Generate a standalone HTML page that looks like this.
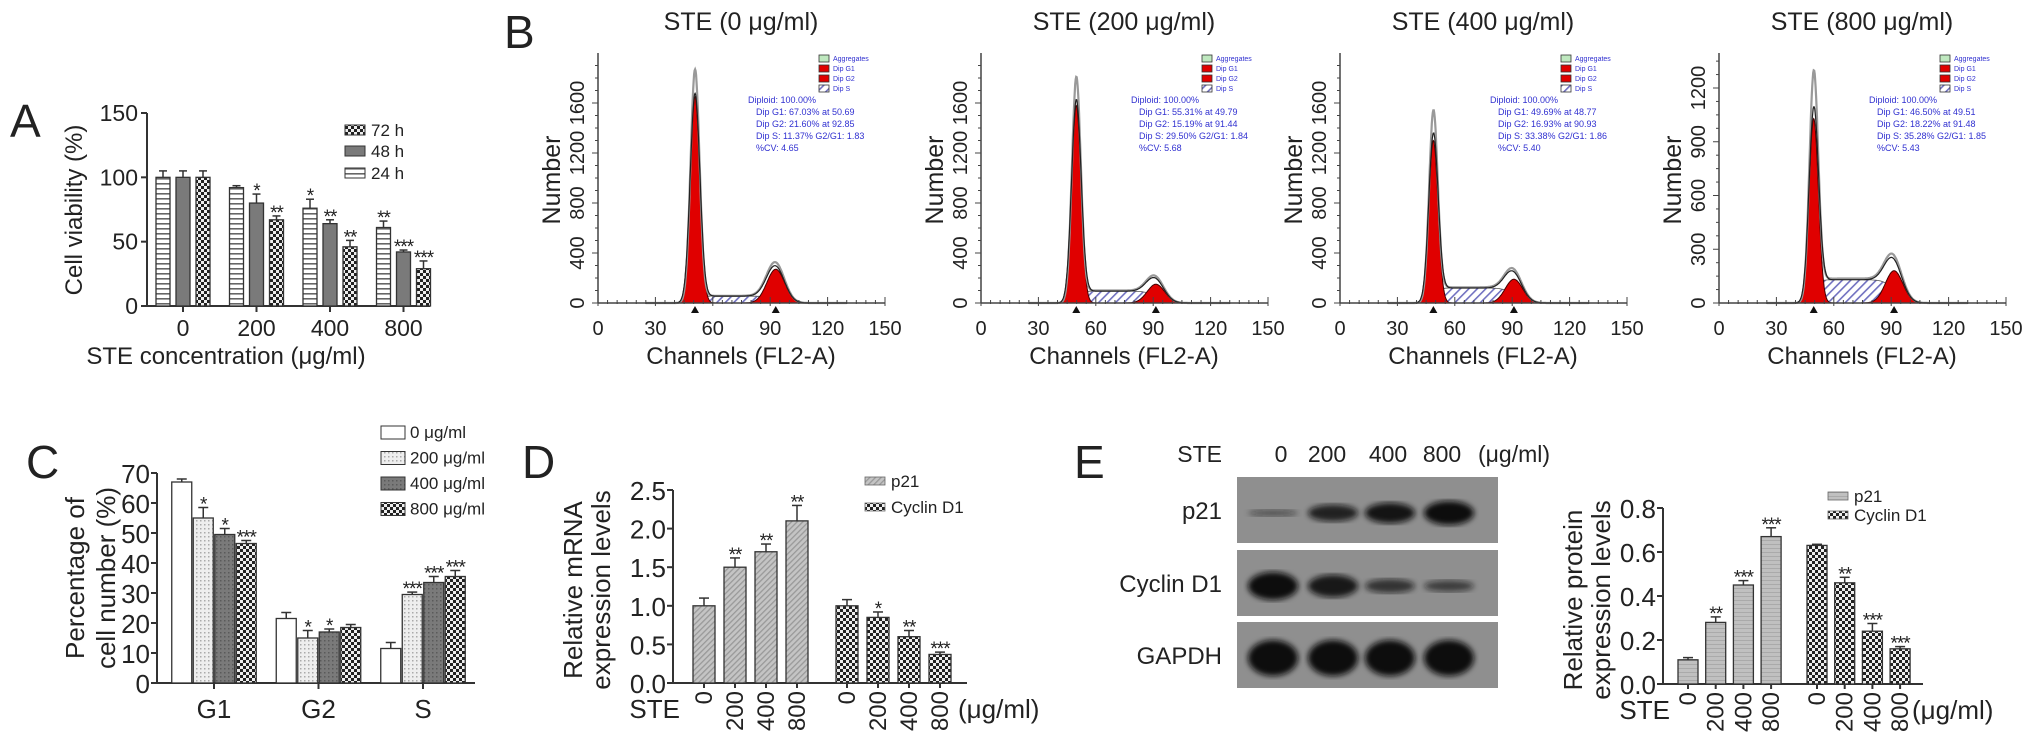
<!DOCTYPE html>
<html><head><meta charset="utf-8">
<style>
html,body{margin:0;padding:0;background:#fff;}
svg{display:block;font-family:"Liberation Sans",Arial,sans-serif;}
</style></head>
<body>
<svg id="fig" width="2032" height="746" viewBox="0 0 2032 746" xmlns="http://www.w3.org/2000/svg">
<defs>
<pattern id="pH" width="6" height="5" patternUnits="userSpaceOnUse"><rect width="6" height="5" fill="#fff"/><rect y="3" width="6" height="1.6" fill="#666"/></pattern>
<pattern id="pChk" width="6" height="6" patternUnits="userSpaceOnUse"><rect width="6" height="6" fill="#222"/><rect width="3" height="3" fill="#eee"/><rect x="3" y="3" width="3" height="3" fill="#eee"/></pattern>
<pattern id="pDot" width="4" height="4" patternUnits="userSpaceOnUse"><rect width="4" height="4" fill="#eee"/><rect width="1.5" height="1.5" fill="#aaa"/></pattern>
<pattern id="pDark" width="4" height="4" patternUnits="userSpaceOnUse"><rect width="4" height="4" fill="#7a7a7a"/><rect width="1.5" height="1.5" fill="#5a5a5a"/></pattern>
<pattern id="pDiag" width="4" height="4" patternUnits="userSpaceOnUse" patternTransform="rotate(45)"><rect width="4" height="4" fill="#c4c4c4"/><rect width="1.3" height="4" fill="#999"/></pattern>
<pattern id="pE" width="4" height="4" patternUnits="userSpaceOnUse"><rect width="4" height="4" fill="#c0c0c0"/><rect width="4" height="1" fill="#aaa"/></pattern>
<pattern id="pS" width="6" height="6" patternUnits="userSpaceOnUse" patternTransform="rotate(45)"><rect width="6" height="6" fill="#fff"/><rect width="1.6" height="6" fill="#7070c0"/></pattern>
<filter id="blur"><feGaussianBlur stdDeviation="3"/></filter>
</defs>
<g id="root"></g>
</svg>
<script>
// ---------- data ----------
const aCats = ["0","200","400","800"];
const a24 = [100, 92, 76, 61];
const a48 = [100, 80, 64, 42];
const a72 = [100, 67, 46, 29];
const a24err = [5, 1.5, 7, 5];
const a48err = [5, 7, 3, 1.5];
const a72err = [5, 3, 5, 6];
const a24star = ["", "", "*", "**"];
const a48star = ["", "*", "**", "***"];
const a72star = ["", "**", "**", "***"];
const aTicks = [0, 50, 100, 150];
const bTitles = ["STE (0 μg/ml)", "STE (200 μg/ml)", "STE (400 μg/ml)", "STE (800 μg/ml)"];
const bG1pos = [50.7, 49.8, 48.8, 49.5];
const bG1fit = [1650, 1580, 1300, 1030];
const bG1raw = [1840, 1760, 1480, 1230];
const bG2pos = [92.9, 91.4, 90.9, 91.5];
const bG2h = [270, 150, 190, 180];
const bSlevel = [55, 95, 120, 130];
const bYmax = [1600, 1600, 1600, 1200];
const bYstep = [400, 400, 400, 300];
const bStats = [
 ["Diploid: 100.00%","Dip G1: 67.03% at 50.69","Dip G2: 21.60% at 92.85","Dip S: 11.37% G2/G1: 1.83","%CV: 4.65"],
 ["Diploid: 100.00%","Dip G1: 55.31% at 49.79","Dip G2: 15.19% at 91.44","Dip S: 29.50% G2/G1: 1.84","%CV: 5.68"],
 ["Diploid: 100.00%","Dip G1: 49.69% at 48.77","Dip G2: 16.93% at 90.93","Dip S: 33.38% G2/G1: 1.86","%CV: 5.40"],
 ["Diploid: 100.00%","Dip G1: 46.50% at 49.51","Dip G2: 18.22% at 91.48","Dip S: 35.28% G2/G1: 1.85","%CV: 5.43"]];
const bXticks = [0, 30, 60, 90, 120, 150];
const cCats = ["G1","G2","S"];
const c0 = [67, 21.5, 11.5];
const c200 = [55, 15, 29.5];
const c400 = [49.5, 17, 33.5];
const c800 = [46.5, 18.5, 35.5];
const c0err = [1, 2, 2];
const c200err = [3.5, 2.5, 0.8];
const c400err = [2, 1, 2];
const c800err = [1, 1, 2];
const c200star = ["*","*","***"];
const c400star = ["*","*","***"];
const c800star = ["***","","***"];
const cTicks = [0,10,20,30,40,50,60,70];
const dCats = ["0","200","400","800"];
const dP21 = [1.0, 1.5, 1.7, 2.1];
const dP21err = [0.1, 0.12, 0.1, 0.2];
const dP21star = ["", "**", "**", "**"];
const dCyc = [1.0, 0.85, 0.6, 0.37];
const dCycErr = [0.08, 0.07, 0.08, 0.03];
const dCycStar = ["", "*", "**", "***"];
const dTicks = [0, 0.5, 1.0, 1.5, 2.0, 2.5];
const eCats = ["0","200","400","800"];
const eP21 = [0.11, 0.28, 0.45, 0.67];
const eP21err = [0.01, 0.025, 0.02, 0.04];
const eP21star = ["", "**", "***", "***"];
const eCyc = [0.63, 0.46, 0.24, 0.16];
const eCycErr = [0.005, 0.025, 0.035, 0.01];
const eCycStar = ["", "**", "***", "***"];
const eTicks = [0, 0.2, 0.4, 0.6, 0.8];
const blotP21 = [0.25, 0.7, 0.85, 1.0];
const blotCyc = [1.0, 0.8, 0.5, 0.4];
const blotGapdh = [1.0, 1.0, 1.0, 1.0];

// ---------- helpers ----------
const NS = "http://www.w3.org/2000/svg";
const root = document.getElementById("root");
function mk(tag, attrs, parent) {
  const e = document.createElementNS(NS, tag);
  for (const k in attrs) e.setAttribute(k, attrs[k]);
  (parent || root).appendChild(e);
  return e;
}
function txt(x, y, s, size, anchor, parent, extra) {
  const t = mk("text", Object.assign({x: x, y: y, "font-size": size, "text-anchor": anchor || "middle", fill: "#222"}, extra || {}), parent);
  t.textContent = s;
  return t;
}
function star(g, x, y, s) {
  if (!s) return;
  txt(x, y + 9, s, 19, "middle", g, {"letter-spacing": "-1"});
}
function fmt1(v){ return v.toFixed(1); }

[["A",10,137],["B",504,48],["C",26,478],["D",522,478],["E",1074,478]].forEach(p => {
  const t = txt(p[1], p[2], p[0], 46, "start");
  
  
});

function bar(g, x, w, y0, y1, fill) {
  return mk("rect", {x: x - w/2, y: y1, width: w, height: y0 - y1, fill: fill, stroke: "#333", "stroke-width": 1.3}, g);
}
function errUp(g, x, yTop, yErr, cap) {
  mk("line", {x1: x, x2: x, y1: yTop, y2: yErr, stroke: "#333", "stroke-width": 1.5}, g);
  mk("line", {x1: x - cap, x2: x + cap, y1: yErr, y2: yErr, stroke: "#333", "stroke-width": 1.5}, g);
}

// ---------- Panel A ----------
(function(){
  const g = mk("g", {});
  
  
  const x0 = 147, yBase = 306, yTop = 113;
  const yA = v => yBase - v * (yBase - yTop) / 150;
  const xA = i => 183 + i * 73.5;
  mk("line", {x1: x0, x2: x0, y1: yTop, y2: yBase, stroke: "#333", "stroke-width": 2}, g);
  mk("line", {x1: x0, x2: 430, y1: yBase, y2: yBase, stroke: "#333", "stroke-width": 2}, g);
  aTicks.forEach(v => {
    mk("line", {x1: x0 - 6, x2: x0, y1: yA(v), y2: yA(v), stroke: "#333", "stroke-width": 2}, g);
    txt(x0 - 9, yA(v) + 8, String(v), 23, "end", g);
  });
  const series = [[a24, a24err, a24star, "url(#pH)", -20], [a48, a48err, a48star, "#7a7a7a", 0], [a72, a72err, a72star, "url(#pChk)", 20]];
  aCats.forEach((c, i) => {
    mk("line", {x1: xA(i), x2: xA(i), y1: yBase, y2: yBase + 6, stroke: "#333", "stroke-width": 2}, g);
    txt(xA(i), 336, c, 23, "middle", g);
    series.forEach(s => {
      const x = xA(i) + s[4];
      const r = bar(g, x, 14, yBase, yA(s[0][i]), s[3]);
      
      
      errUp(g, x, yA(s[0][i]), yA(s[0][i] + s[1][i]), 4);
      star(g, x, yA(s[0][i] + s[1][i]) - 6, s[2][i]);
    });
  });
  const yl = txt(0, 0, "Cell viability (%)", 24, "middle", g, {transform: "translate(82,210) rotate(-90)"});
  
  
  const xl = txt(226, 364, "STE concentration (μg/ml)", 24, "middle", g);
  
  
  [["72 h","url(#pChk)",132],["48 h","#7a7a7a",153],["24 h","url(#pH)",175]].forEach(l => {
    const le = mk("g", {}, g);
    
    
    mk("rect", {x: 345, y: l[2] - 7, width: 20, height: 10, fill: l[1], stroke: "#333"}, le);
    txt(371, l[2] + 4, l[0], 17, "start", le);
  });
})();

// ---------- Panel B ----------
const bAxisX = [598, 981, 1340, 1719];
bTitles.forEach((title, k) => {
  const g = mk("g", {});
  
  
  const ax = bAxisX[k], yBase = 303;
  const xS = ch => ax + ch * 287 / 150;
  const pxPerCount = (k === 3 ? 215 / 1200 : 200 / 1600);
  const yS = n => yBase - n * pxPerCount;
  const sig1 = bG1pos[k] * 0.05, sig2 = bG2pos[k] * 0.05;
  const gauss = (c, p, h, s) => h * Math.exp(-(c - p) * (c - p) / (2 * s * s));
  const sig = (z) => 1 / (1 + Math.exp(-z));
  const sPart = c => bSlevel[k] * sig((c - bG1pos[k]) / 1.5) * sig((bG2pos[k] - c) / 2.5);
  let pG1 = "", pG2 = "", pSp = "", pTot = "", pRaw = "";
  const cs = [];
  for (let c = 25; c <= 130; c += 0.25) cs.push(c);
  cs.forEach((c, i) => {
    const cmd = i === 0 ? "M" : "L";
    pG1 += cmd + xS(c).toFixed(1) + "," + yS(gauss(c, bG1pos[k], bG1fit[k], sig1)).toFixed(1);
    pG2 += cmd + xS(c).toFixed(1) + "," + yS(gauss(c, bG2pos[k], bG2h[k], sig2)).toFixed(1);
    pSp += cmd + xS(c).toFixed(1) + "," + yS(sPart(c)).toFixed(1);
    const tot = gauss(c, bG1pos[k], bG1fit[k], sig1) + gauss(c, bG2pos[k], bG2h[k], sig2) + sPart(c);
    pTot += cmd + xS(c).toFixed(1) + "," + yS(tot).toFixed(1);
    const raw = gauss(c, bG1pos[k], bG1raw[k], sig1 * 0.92) + gauss(c, bG2pos[k], bG2h[k] * 1.1, sig2) + sPart(c) * 1.05;
    pRaw += cmd + xS(c).toFixed(1) + "," + yS(raw).toFixed(1);
  });
  const close = "L" + xS(130) + "," + yBase + "L" + xS(25) + "," + yBase + "Z";
  const sA = mk("path", {d: pSp + close, fill: "url(#pS)", stroke: "#555", "stroke-width": 0.8}, g);
  
  
  const g1 = mk("path", {d: pG1 + close, fill: "#e00000", stroke: "#400", "stroke-width": 1}, g);
  
  
  const g2 = mk("path", {d: pG2 + close, fill: "#e00000", stroke: "#400", "stroke-width": 1}, g);
  
  
  mk("path", {d: pRaw, fill: "none", stroke: "#999", "stroke-width": 2.2}, g);
  mk("path", {d: pTot, fill: "none", stroke: "#222", "stroke-width": 1.2}, g);
  mk("line", {x1: ax, x2: ax, y1: 53, y2: yBase, stroke: "#444", "stroke-width": 1.5}, g);
  mk("line", {x1: ax, x2: xS(150), y1: yBase, y2: yBase, stroke: "#444", "stroke-width": 1.5}, g);
  for (let c = 0; c <= 150; c += 5) {
    const big = c % 30 === 0;
    mk("line", {x1: xS(c), x2: xS(c), y1: yBase - (big ? 6 : 3), y2: yBase + (big ? 3 : 1), stroke: "#444", "stroke-width": 1}, g);
  }
  bXticks.forEach(c => txt(xS(c), 335, String(c), 20, "middle", g));
  const minor = bYstep[k] / 4;
  for (let n = 0; yS(n) >= 55; n += minor) {
    const big = n % bYstep[k] === 0;
    mk("line", {x1: ax - (big ? 6 : 3), x2: ax, y1: yS(n), y2: yS(n), stroke: "#444", "stroke-width": 1}, g);
    if (big && n <= bYmax[k]) txt(0, 0, String(n), 20, "middle", g, {transform: "translate(" + (ax - 14) + "," + yS(n) + ") rotate(-90)"});
  }
  [bG1pos[k], bG2pos[k]].forEach(p => mk("path", {d: "M" + (xS(p) - 4) + "," + (yBase + 10) + "L" + (xS(p) + 4) + "," + (yBase + 10) + "L" + xS(p) + "," + (yBase + 3) + "Z", fill: "#111"}, g));
  const tt = txt(ax + 143, 30, title, 25, "middle", g);
  
  
  txt(ax + 143, 364, "Channels (FL2-A)", 24, "middle", g);
  txt(0, 0, "Number", 25, "middle", g, {transform: "translate(" + (ax - 38) + ",180) rotate(-90)"});
  [["Aggregates","#bfe8bf"],["Dip G1","#e00000"],["Dip G2","#e00000"],["Dip S","url(#pS)"]].forEach((l, j) => {
    mk("rect", {x: ax + 221, y: 55 + j * 10, width: 10, height: 7, fill: l[1], stroke: "#333", "stroke-width": 0.8}, g);
    txt(ax + 235, 61 + j * 10, l[0], 7, "start", g, {fill: "#3030d0"});
  });
  bStats[k].forEach((s, j) => txt(ax + (j === 0 ? 150 : 158), 103 + j * 12, s, 9, "start", g, {fill: "#3030d0"}));
});

// ---------- Panel C ----------
(function(){
  const g = mk("g", {});
  
  
  const x0 = 157, yBase = 683;
  const yC = v => yBase - v * 3;
  const xC = i => 214 + i * 104.5;
  mk("line", {x1: x0, x2: x0, y1: yC(70), y2: yBase, stroke: "#333", "stroke-width": 2}, g);
  mk("line", {x1: x0, x2: 475, y1: yBase, y2: yBase, stroke: "#333", "stroke-width": 2}, g);
  cTicks.forEach(v => {
    mk("line", {x1: x0 - 6, x2: x0, y1: yC(v), y2: yC(v), stroke: "#333", "stroke-width": 2}, g);
    txt(x0 - 7, yC(v) + 10, String(v), 26, "end", g);
  });
  const series = [[c0, c0err, ["","",""], "#fff", -32.25], [c200, c200err, c200star, "url(#pDot)", -10.75], [c400, c400err, c400star, "url(#pDark)", 10.75], [c800, c800err, c800star, "url(#pChk)", 32.25]];
  cCats.forEach((c, i) => {
    mk("line", {x1: xC(i), x2: xC(i), y1: yBase, y2: yBase + 6, stroke: "#333", "stroke-width": 2}, g);
    txt(xC(i), 718, c, 26, "middle", g);
    series.forEach(s => {
      const x = xC(i) + s[4];
      const r = bar(g, x, 20, yBase, yC(s[0][i]), s[3]);
      
      
      errUp(g, x, yC(s[0][i]), yC(s[0][i] + s[1][i]), 5);
      star(g, x, yC(s[0][i] + s[1][i]) - 6, s[2][i]);
    });
  });
  txt(0, 0, "Percentage of", 26, "middle", g, {transform: "translate(84,578) rotate(-90)"});
  txt(0, 0, "cell number (%)", 26, "middle", g, {transform: "translate(115,578) rotate(-90)"});
  [["0 μg/ml","#fff"],["200 μg/ml","url(#pDot)"],["400 μg/ml","url(#pDark)"],["800 μg/ml","url(#pChk)"]].forEach((l, j) => {
    const le = mk("g", {}, g);
    
    
    mk("rect", {x: 381, y: 426 + j * 25.5, width: 24, height: 13, fill: l[1], stroke: "#333"}, le);
    txt(410, 438 + j * 25.5, l[0], 17, "start", le);
  });
})();

// ---------- Panel D & E ----------
function pairChart(opt) {
  const g = mk("g", {});
  
  
  const yF = v => opt.yBase - v * opt.scale;
  const xF = i => i < 4 ? opt.x1 + i * opt.step : opt.x2 + (i - 4) * opt.step;
  mk("line", {x1: opt.x0, x2: opt.x0, y1: yF(opt.ticks[opt.ticks.length - 1]), y2: opt.yBase, stroke: "#333", "stroke-width": 2}, g);
  mk("line", {x1: opt.x0, x2: opt.xEnd, y1: opt.yBase, y2: opt.yBase, stroke: "#333", "stroke-width": 2}, g);
  opt.ticks.forEach(v => {
    mk("line", {x1: opt.x0 - 6, x2: opt.x0, y1: yF(v), y2: yF(v), stroke: "#333", "stroke-width": 2}, g);
    txt(opt.x0 - 7, yF(v) + 10, fmt1(v), 26, "end", g);
  });
  const all = opt.a.concat(opt.b), errs = opt.ae.concat(opt.be), stars = opt.as.concat(opt.bs);
  all.forEach((v, i) => {
    const x = xF(i);
    const r = bar(g, x, opt.w, opt.yBase, yF(v), i < 4 ? opt.fa : "url(#pChk)");
    
    
    errUp(g, x, yF(v), yF(v + errs[i]), 5);
    star(g, x, yF(v + errs[i]) - 6, stars[i]);
    mk("line", {x1: x, x2: x, y1: opt.yBase, y2: opt.yBase + 5, stroke: "#333", "stroke-width": 2}, g);
    txt(0, 0, opt.cats[i % 4], 24, "end", g, {transform: "translate(" + (x + 8) + "," + (opt.yBase + 8) + ") rotate(-90)"});
  });
  txt(opt.steX, opt.yBase + 35, "STE", 26, "end", g);
  txt(opt.unitX, opt.yBase + 35, "(μg/ml)", 26, "start", g);
  txt(0, 0, opt.yl1, 26, "middle", g, {transform: "translate(" + opt.ylx + "," + opt.yly + ") rotate(-90)"});
  txt(0, 0, opt.yl2, 26, "middle", g, {transform: "translate(" + (opt.ylx + 28) + "," + opt.yly + ") rotate(-90)"});
  [["p21", opt.fa], ["Cyclin D1", "url(#pChk)"]].forEach((l, j) => {
    const le = mk("g", {}, g);
    
    
    mk("rect", {x: opt.legX, y: opt.legY + j * opt.legStep - 5, width: 20, height: 8, fill: l[1], stroke: "#666", "stroke-width": 0.8}, le);
    txt(opt.legX + 26, opt.legY + j * opt.legStep + 5, l[0], 17, "start", le);
  });
}
pairChart({name: "panel-d-mrna-chart", x0: 673, xEnd: 967, yBase: 683, scale: 193 / 2.5, x1: 704, x2: 847, step: 31, w: 22,
  ticks: dTicks, cats: dCats, a: dP21, b: dCyc, ae: dP21err, be: dCycErr, as: dP21star, bs: dCycStar, fa: "url(#pDiag)",
  steX: 680, unitX: 958, yl1: "Relative mRNA", yl2: "expression levels", ylx: 582, yly: 590, legX: 865, legY: 482, legStep: 26});
pairChart({name: "panel-e-protein-chart", x0: 1663, xEnd: 1923, yBase: 684, scale: 220, x1: 1688, x2: 1817, step: 27.7, w: 20,
  ticks: eTicks, cats: eCats, a: eP21, b: eCyc, ae: eP21err, be: eCycErr, as: eP21star, bs: eCycStar, fa: "url(#pE)",
  steX: 1670, unitX: 1912, yl1: "Relative protein", yl2: "expression levels", ylx: 1582, yly: 600, legX: 1828, legY: 497, legStep: 19});

// ---------- Panel E western blot ----------
(function(){
  const g = mk("g", {});
  
  
  txt(1222, 462, "STE", 23, "end", g);
  const laneX = [1273, 1333, 1390, 1449];
  const laneLabelX = [1281, 1327, 1388, 1442];
  ["0","200","400","800"].forEach((s, i) => txt(laneLabelX[i], 462, s, 23, "middle", g));
  txt(1478, 462, "(μg/ml)", 23, "start", g);
  const rows = [["p21", 477, blotP21, 12], ["Cyclin D1", 550, blotCyc, 14], ["GAPDH", 622, blotGapdh, 18]];
  rows.forEach(r => {
    const p = mk("rect", {x: 1237, y: r[1], width: 261, height: 66, fill: "#8f8f8f"}, g);
    
    
    txt(1222, r[1] + 42, r[0], 24, "end", g);
    r[2].forEach((v, i) => {
      const b = mk("ellipse", {cx: laneX[i], cy: r[1] + 36, rx: 25, ry: Math.max(3, r[3] * v), fill: "#111", opacity: Math.min(1, 0.35 + v * 0.7), filter: "url(#blur)"}, g);
      
      
    });
  });
})();
</script>
</body></html>
